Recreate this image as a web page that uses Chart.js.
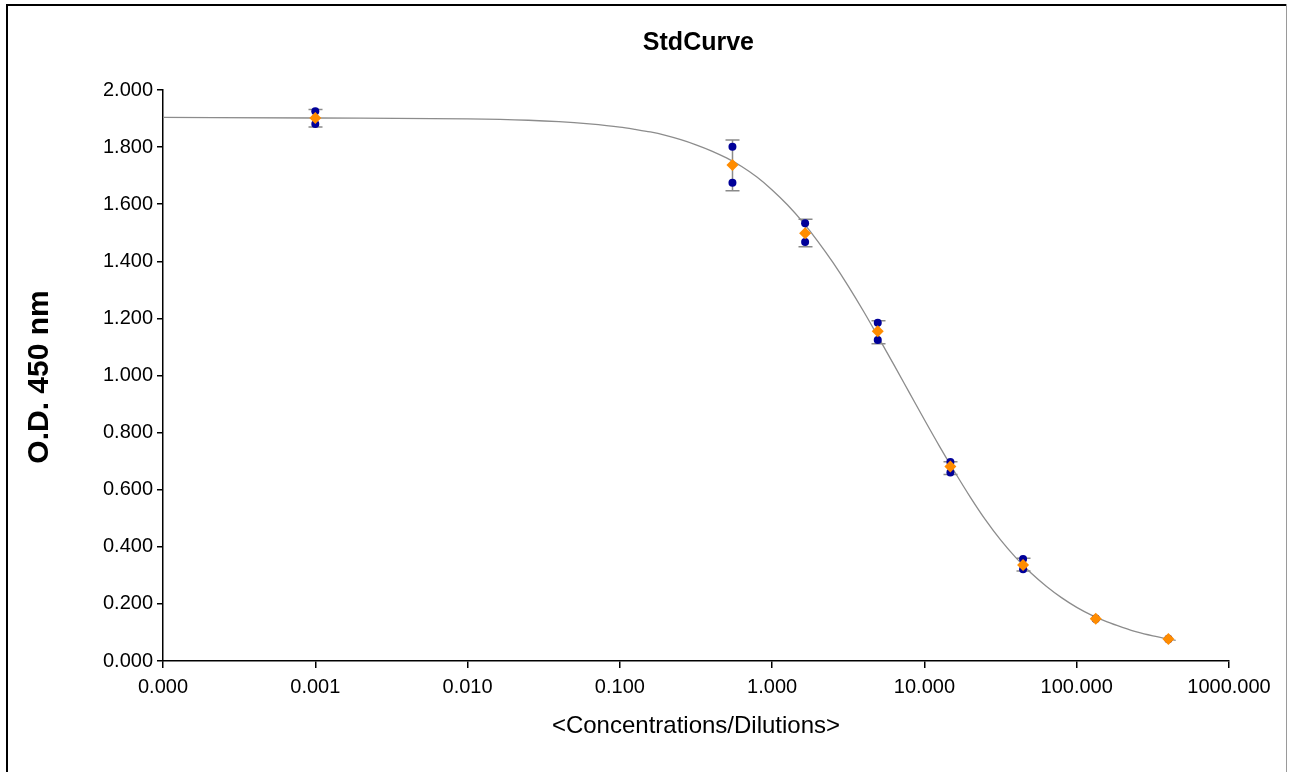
<!DOCTYPE html>
<html>
<head>
<meta charset="utf-8">
<script src="https://cdn.jsdelivr.net/npm/chart.js@4"></script>
<style>
  html, body { margin: 0; padding: 0; background: #fff; }
  #wrap { width: 1291px; height: 772px; }
</style>
</head>
<body>
<div id="wrap"><canvas id="chart" width="1291" height="772"></canvas></div>
<script>
// standards: 3-fold dilution series, two replicates each
const concentrations = [0.001, 0.5487, 1.646, 4.938, 14.81, 44.44, 133.3, 400];
const rep1 = [1.926, 1.801, 1.533, 1.185, 0.697, 0.357, 0.149, 0.078];
const rep2 = [1.881, 1.675, 1.468, 1.124, 0.660, 0.321, 0.147, 0.076];
const means = [1.902, 1.737, 1.498, 1.155, 0.681, 0.336, 0.148, 0.077];
const errHigh = [1.932, 1.825, 1.547, 1.192, 0.698, 0.360, null, null];
const errLow = [1.870, 1.647, 1.451, 1.111, 0.653, 0.315, null, null];

// fitted curve
const curveX = [0.0001, 0.001, 0.01, 0.02512, 0.03981, 0.0631, 0.1, 0.1259, 0.1585, 0.1995,
                0.2512, 0.3162, 0.3981, 0.5012, 0.631, 0.7943, 1, 1.259, 1.585, 1.995,
                2.512, 3.162, 3.981, 5.012, 6.31, 7.943, 10, 12.59, 15.85, 19.95,
                25.12, 31.62, 39.81, 50.12, 63.1, 79.43, 100, 125.9, 158.5, 199.5,
                251.2, 316.2, 398.1, 446.7];
const curveY = [1.904, 1.902, 1.899, 1.894, 1.889, 1.881, 1.870, 1.862, 1.853, 1.841,
                1.826, 1.808, 1.787, 1.762, 1.732, 1.695, 1.650, 1.598, 1.538, 1.470,
                1.395, 1.313, 1.225, 1.132, 1.037, 0.941, 0.845, 0.751, 0.661, 0.575,
                0.495, 0.424, 0.362, 0.308, 0.262, 0.222, 0.188, 0.160, 0.137, 0.118,
                0.101, 0.088, 0.077, 0.072];

const xTicks = [0.0001, 0.001, 0.01, 0.1, 1, 10, 100, 1000];

const toPts = (xs, ys) => xs.map((x, i) => ({ x: x, y: ys[i] })).filter(p => p.y !== null);

const FONT = "'Liberation Sans', Arial, sans-serif";

// error bars, drawn under the markers
const errorBars = {
    id: 'errorBars',
    beforeDatasetsDraw(chart) {
        const { ctx, scales: { x, y } } = chart;
        ctx.save();
        ctx.strokeStyle = '#8a8a8a';
        ctx.lineWidth = 1.5;
        concentrations.forEach((c, i) => {
            if (errHigh[i] === null) return;
            const px = Math.round(x.getPixelForValue(c)) + 0.5;
            const yt = y.getPixelForValue(errHigh[i]);
            const yb = y.getPixelForValue(errLow[i]);
            ctx.beginPath();
            ctx.moveTo(px, yt); ctx.lineTo(px, yb);
            ctx.moveTo(px - 7, yt); ctx.lineTo(px + 7, yt);
            ctx.moveTo(px - 7, yb); ctx.lineTo(px + 7, yb);
            ctx.stroke();
        });
        ctx.restore();
    }
};

// titles and outer frame
const decorations = {
    id: 'decorations',
    afterDraw(chart) {
        const ctx = chart.ctx;
        ctx.save();
        ctx.fillStyle = '#000';
        ctx.textBaseline = 'middle';

        ctx.font = 'bold 25px ' + FONT;
        ctx.textAlign = 'right';
        ctx.fillText('StdCurve', 754, 43);

        ctx.font = '24px ' + FONT;
        ctx.textAlign = 'center';
        ctx.fillText('<Concentrations/Dilutions>', 696, 726);

        ctx.translate(40, 377);
        ctx.rotate(-Math.PI / 2);
        ctx.font = 'bold 30px ' + FONT;
        ctx.fillText('O.D. 450 nm', 0, 0);
        ctx.restore();

        ctx.save();
        ctx.fillStyle = '#000';
        ctx.fillRect(6, 4, 2, 768);
        ctx.fillRect(6, 4, 1281, 2);
        ctx.fillStyle = '#9a9a9a';
        ctx.fillRect(1286, 4, 1, 768);
        ctx.restore();
    }
};

new Chart(document.getElementById('chart'), {
    type: 'scatter',
    data: {
        datasets: [
            {
                label: 'Mean',
                data: toPts(concentrations, means),
                pointStyle: 'rectRot',
                pointRadius: 6,
                backgroundColor: '#FF8C00',
                borderColor: '#FF8C00',
                borderWidth: 0,
                order: 0
            },
            {
                label: 'Replicate 1',
                data: toPts(concentrations, rep1),
                pointRadius: 4,
                backgroundColor: '#000099',
                borderColor: '#000099',
                borderWidth: 0,
                order: 1
            },
            {
                label: 'Replicate 2',
                data: toPts(concentrations, rep2),
                pointRadius: 4,
                backgroundColor: '#000099',
                borderColor: '#000099',
                borderWidth: 0,
                order: 1
            },
            {
                label: 'Fit',
                data: toPts(curveX, curveY),
                showLine: true,
                pointRadius: 0,
                borderColor: '#8c8c8c',
                borderWidth: 1.3,
                cubicInterpolationMode: 'monotone',
                order: 2
            }
        ]
    },
    options: {
        responsive: false,
        animation: false,
        layout: { padding: { left: 0, right: 62, top: 90, bottom: 0 } },
        plugins: {
            legend: { display: false },
            title: { display: false },
            tooltip: { enabled: false }
        },
        scales: {
            x: {
                type: 'logarithmic',
                min: 0.0001,
                max: 1000,
                afterBuildTicks: (scale) => { scale.ticks = xTicks.map(v => ({ value: v })); },
                afterFit: (scale) => { scale.height = 111; },
                border: { color: '#000', width: 1.5 },
                grid: { drawOnChartArea: false, drawTicks: true, tickLength: 7, color: '#000', lineWidth: 1.5 },
                ticks: {
                    color: '#000',
                    font: { family: FONT, size: 20 },
                    padding: 7,
                    maxRotation: 0,
                    autoSkip: false,
                    callback: (v) => Number(v).toFixed(3)
                }
            },
            y: {
                min: 0,
                max: 2,
                afterFit: (scale) => { scale.width = 163; },
                border: { color: '#000', width: 1.5 },
                grid: { drawOnChartArea: false, drawTicks: true, tickLength: 6, color: '#000', lineWidth: 1.5 },
                ticks: {
                    stepSize: 0.2,
                    color: '#000',
                    font: { family: FONT, size: 20 },
                    padding: 4,
                    callback: (v) => Number(v).toFixed(3)
                }
            }
        }
    },
    plugins: [errorBars, decorations]
});
</script>
</body>
</html>
